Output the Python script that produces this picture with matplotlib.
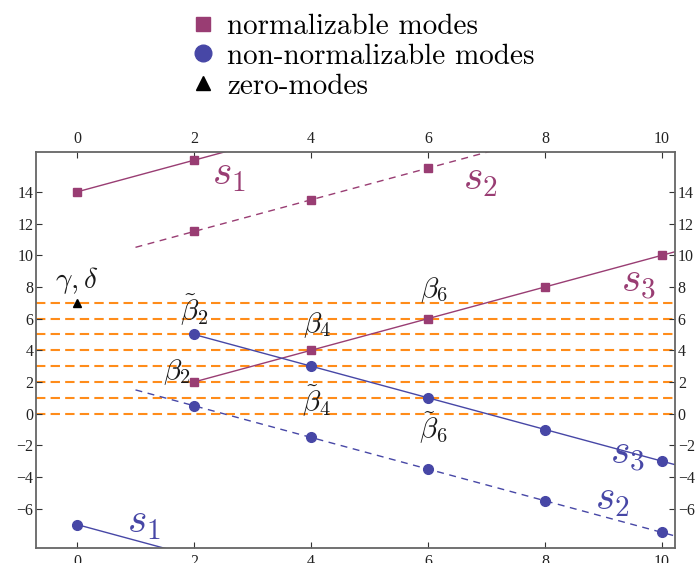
import matplotlib
matplotlib.use("Agg")
import matplotlib.pyplot as plt
from matplotlib.lines import Line2D

plt.rcParams['mathtext.fontset'] = 'cm'
plt.rcParams['font.family'] = ['Liberation Serif', 'DejaVu Serif']

# ---- data ----
MAG = '#993d73'
BLUE = '#4747a6'
ORANGE = '#ff8c1a'

# normalizable modes (squares)
norm_s1_x = [0, 2]
norm_s1_y = [14, 16]
norm_s1_line_x = [0, 3]
norm_s1_line_y = [14, 17]

norm_s2_x = [2, 4, 6]
norm_s2_y = [11.5, 13.5, 15.5]
norm_s2_line_x = [1, 8]
norm_s2_line_y = [10.5, 17.5]

norm_s3_x = [2, 4, 6, 8, 10]
norm_s3_y = [2, 4, 6, 8, 10]
norm_s3_line_x = [2, 11]
norm_s3_line_y = [2, 11]

# non-normalizable modes (circles)
non_s1_x = [0]
non_s1_y = [-7]
non_s1_line_x = [0, 3]
non_s1_line_y = [-7, -10]

non_s2_x = [2, 4, 6, 8, 10]
non_s2_y = [0.5, -1.5, -3.5, -5.5, -7.5]
non_s2_line_x = [1, 11]
non_s2_line_y = [1.5, -8.5]

non_s3_x = [2, 4, 6, 8, 10]
non_s3_y = [5, 3, 1, -1, -3]
non_s3_line_x = [2, 11]
non_s3_line_y = [5, -4]

# zero-modes (triangle)
zero_x = [0]
zero_y = [7]

# horizontal reference levels
levels = [0, 1, 2, 3, 4, 5, 6, 7]

xticks = [0, 2, 4, 6, 8, 10]
yticks = [-6, -4, -2, 0, 2, 4, 6, 8, 10, 12, 14]

# labels: (text, x, y, color)
series_labels = [
    (r'$s_1$', 2.6, 15.1, MAG),
    (r'$s_2$', 6.9, 14.75, MAG),
    (r'$s_3$', 9.6, 8.25, MAG),
    (r'$s_3$', 9.4, -2.6, BLUE),
    (r'$s_2$', 9.15, -5.45, BLUE),
    (r'$s_1$', 1.15, -6.9, BLUE),
]
greek_labels = [
    (r'$\gamma,\delta$', 0.0, 8.4),
    (r'$\tilde{\beta}_2$', 2.0, 6.55),
    (r'$\beta_4$', 4.1, 5.6),
    (r'$\beta_6$', 6.1, 7.8),
    (r'$\beta_2$', 1.7, 2.6),
    (r'$\tilde{\beta}_4$', 4.1, 0.8),
    (r'$\tilde{\beta}_6$', 6.1, -0.9),
]

# ---- figure ----
fig = plt.figure(figsize=(6.97, 5.63), dpi=100)
ax = fig.add_axes([0.0517, 0.0261, 0.9167, 0.7034])
ax.set_xlim(-0.7, 10.22)
ax.set_ylim(-8.5, 16.5)

for lv in levels:
    ax.axhline(lv, color=ORANGE, lw=1.5, ls=(0, (4.5, 2.5)), zorder=1)

lw = 1.0
dash = (0, (5, 4))
ax.plot(norm_s1_line_x, norm_s1_line_y, color=MAG, lw=lw, zorder=2)
ax.plot(norm_s2_line_x, norm_s2_line_y, color=MAG, lw=lw, ls=dash, zorder=2)
ax.plot(norm_s3_line_x, norm_s3_line_y, color=MAG, lw=lw, zorder=2)
ax.plot(non_s1_line_x, non_s1_line_y, color=BLUE, lw=lw, zorder=2)
ax.plot(non_s2_line_x, non_s2_line_y, color=BLUE, lw=lw, ls=dash, zorder=2)
ax.plot(non_s3_line_x, non_s3_line_y, color=BLUE, lw=lw, zorder=2)

sq = dict(marker='s', ls='none', color=MAG, ms=6, zorder=3)
ci = dict(marker='o', ls='none', color=BLUE, ms=7, zorder=3)
for xs, ys in [(norm_s1_x, norm_s1_y), (norm_s2_x, norm_s2_y), (norm_s3_x, norm_s3_y)]:
    ax.plot(xs, ys, **sq)
for xs, ys in [(non_s1_x, non_s1_y), (non_s2_x, non_s2_y), (non_s3_x, non_s3_y)]:
    ax.plot(xs, ys, **ci)
ax.plot(zero_x, zero_y, marker='^', ls='none', color='black', ms=5.5, zorder=3)

for t, x, y, c in series_labels:
    ax.text(x, y, t, color=c, fontsize=30, ha='center', va='center', zorder=4)
for t, x, y in greek_labels:
    ax.text(x, y, t, color='#1a1a1a', fontsize=21, ha='center', va='center', zorder=4)

ax.set_xticks(xticks)
ax.set_yticks(yticks)
ax.tick_params(axis='both', which='both', direction='in', length=4, width=0.8,
               color='#333333', labelsize=11.5, labelcolor='#222222',
               top=True, right=True, labeltop=True, labelright=True, pad=4)
ax.tick_params(axis='y', pad=2)
for s in ax.spines.values():
    s.set_color('#666666')
    s.set_linewidth(1.3)

handles = [
    Line2D([], [], marker='s', ls='none', color=MAG, ms=10.5),
    Line2D([], [], marker='o', ls='none', color=BLUE, ms=12),
    Line2D([], [], marker='^', ls='none', color='black', ms=10),
]
leg = fig.legend(handles, ['normalizable modes', 'non-normalizable modes', 'zero-modes'],
                 loc='upper left', bbox_to_anchor=(0.232, 1.023), frameon=False,
                 prop={'family': 'cmr10', 'size': 21}, handletextpad=0.35,
                 labelspacing=0.12, handlelength=1.0)

fig.savefig('out.png', dpi=100)
